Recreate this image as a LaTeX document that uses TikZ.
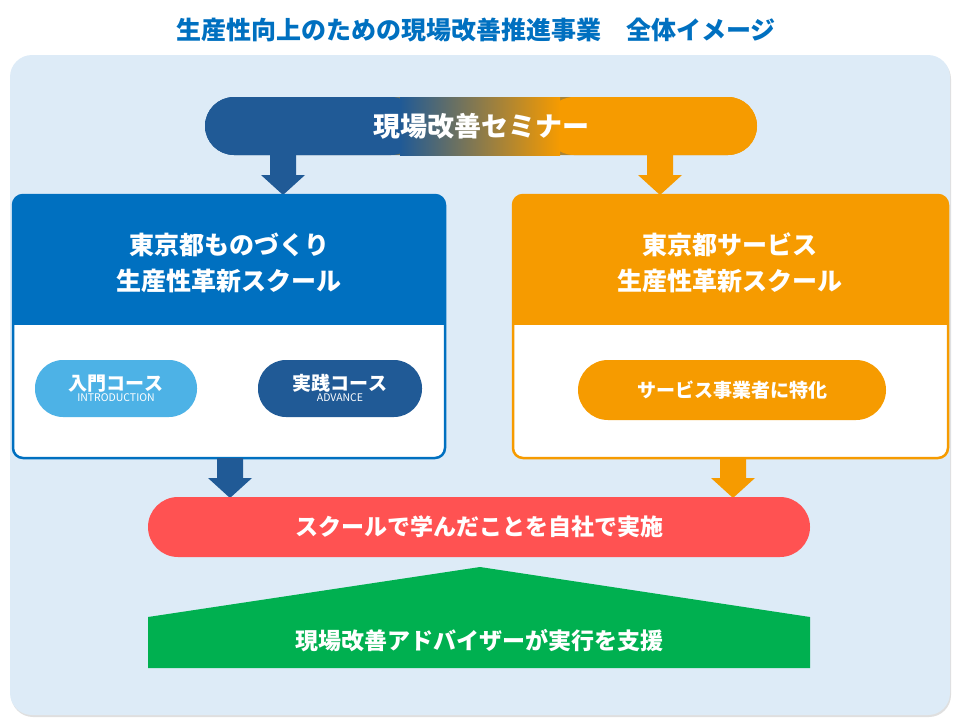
\documentclass[tikz,border=0pt]{standalone}
\usepackage{fontspec}
\setmainfont{Noto Sans CJK JP}
\usetikzlibrary{shadows}
\definecolor{ttl}{RGB}{0,112,192}
\definecolor{bg}{RGB}{221,235,247}
\definecolor{dblue}{RGB}{32,90,150}
\definecolor{mblue}{RGB}{0,112,192}
\definecolor{lblue}{RGB}{77,178,230}
\definecolor{orng}{RGB}{246,155,0}
\definecolor{red1}{RGB}{255,82,82}
\definecolor{grn}{RGB}{0,176,80}
\tikzset{
 pill/.style={rounded corners=#1, draw=none},
 wtxt/.style={text=white,font=\bfseries,align=center},
}
\newcommand{\blockarrow}[3]{% x, ytop, color
 \fill[#3] (#1-13,#2) -- (#1+13,#2) -- (#1+13,#2+20) -- (#1+22,#2+20) -- (#1,#2+40) -- (#1-22,#2+20) -- (#1-13,#2+20) -- cycle;}
\begin{document}
\begin{tikzpicture}[x=1pt,y=-1pt]
\useasboundingbox (0,0) rectangle (960,720);
\node[text=ttl,font=\bfseries\fontsize{25}{28}\selectfont] (title) at (476,30) {生産性向上のための現場改善推進事業\hspace{1em}全体イメージ};
\fill[bg, rounded corners=22, drop shadow={opacity=0.25,shadow xshift=1pt,shadow yshift=-2pt}] (10,55) rectangle (950,715);
% seminar
\shade[left color=dblue,right color=orng,middle color=dblue!50!orng, rounded corners=29] (205,97) rectangle (757,155);
\fill[dblue,rounded corners=29] (205,97) rectangle (420,155);
\fill[orng,rounded corners=29] (545,97) rectangle (757,155);
\shade[left color=dblue,right color=orng] (400,97) rectangle (560,155);
\node[wtxt,font=\bfseries\fontsize{27}{30}\selectfont] (sem) at (481,126) {現場改善セミナー};
\blockarrow{283}{155}{dblue}
\blockarrow{660}{155}{orng}
% left box
\fill[white,rounded corners=10] (13,195) rectangle (445,458);
\fill[mblue,rounded corners=10] (13,195) rectangle (445,300);
\fill[mblue] (13,280) rectangle (445,325);
\draw[mblue,line width=2.5pt,rounded corners=10] (13,195) rectangle (445,458);
\node[wtxt,font=\bfseries\fontsize{25}{36}\selectfont] (mono) at (229,263) {東京都ものづくり\\生産性革新スクール};
\fill[lblue,rounded corners=28] (35,360) rectangle (197,417);
\node[text=white,align=center,inner sep=0] (intro) at (116,388) {{\bfseries\fontsize{19}{21}\selectfont 入門コース}\\[-1pt]{\fontsize{10.5}{12}\selectfont INTRODUCTION}};
\fill[dblue,rounded corners=28] (258,360) rectangle (422,417);
\node[text=white,align=center,inner sep=0] (adv) at (340,388) {{\bfseries\fontsize{19}{21}\selectfont 実践コース}\\[-1pt]{\fontsize{10.5}{12}\selectfont ADVANCE}};
% right box
\fill[white,rounded corners=10] (513,195) rectangle (948,458);
\fill[orng,rounded corners=10] (513,195) rectangle (948,300);
\fill[orng] (513,280) rectangle (948,325);
\draw[orng,line width=2.5pt,rounded corners=10] (513,195) rectangle (948,458);
\node[wtxt,font=\bfseries\fontsize{25}{36}\selectfont] (serv) at (730,263) {東京都サービス\\生産性革新スクール};
\fill[orng,rounded corners=30] (578,360) rectangle (886,420);
\node[wtxt,font=\bfseries\fontsize{19}{22}\selectfont] (spec) at (732,390) {サービス事業者に特化};
\blockarrow{230}{458}{dblue}
\blockarrow{733}{458}{orng}
% red pill
\fill[red1,rounded corners=30] (148,497) rectangle (810,557);
\node[wtxt,font=\bfseries\fontsize{23}{26}\selectfont] (impl) at (479,527) {スクールで学んだことを自社で実施};
% green
\fill[grn] (148,617) -- (480,567) -- (810,617) -- (810,668) -- (148,668) -- cycle;
\node[wtxt,font=\bfseries\fontsize{23}{26}\selectfont] (adv2) at (479,641) {現場改善アドバイザーが実行を支援};
\end{tikzpicture}
\end{document}
